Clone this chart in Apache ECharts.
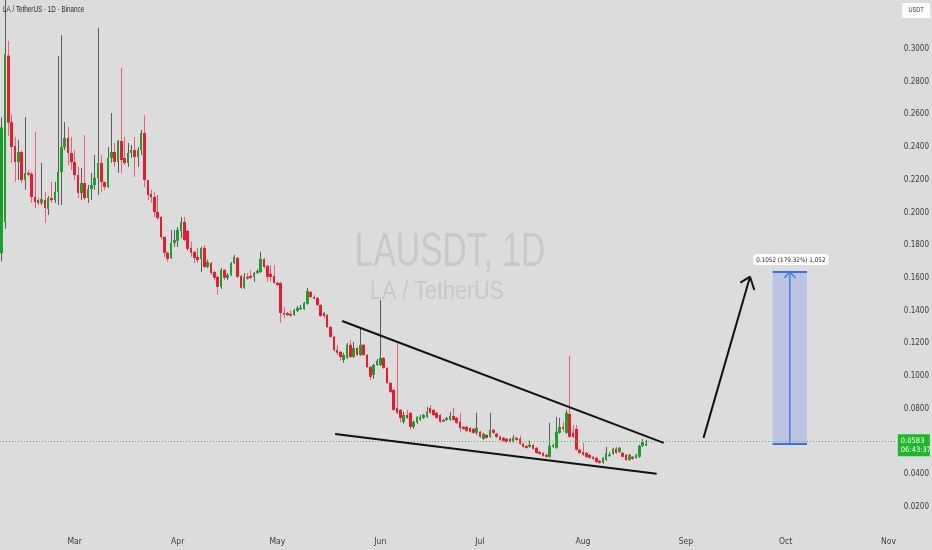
<!DOCTYPE html>
<html>
<head>
<meta charset="utf-8">
<script src="https://cdn.jsdelivr.net/npm/echarts@6/dist/echarts.min.js"></script>
<style>
html,body{margin:0;padding:0;background:#dcdcdc;}
#chart{width:932px;height:550px;}
</style>
</head>
<body>
<div id="chart"></div>
<script>
// ---- data (daily OHLC, LA / TetherUS, Binance) ----
const firstDay = '2025-02-07';
const dayCount = 270;
const monthNames = ['Jan','Feb','Mar','Apr','May','Jun','Jul','Aug','Sep','Oct','Nov','Dec'];

const open = [
0.175,0.194,0.296,0.2553,0.2407,0.2309,0.237,0.2199,0.2242,0.2236,
0.2095,0.2076,0.2058,0.2076,0.2021,0.2088,0.2076,0.2125,0.2248,0.24,
0.2456,0.2364,0.2309,0.2229,0.2119,0.218,0.2088,0.2144,0.2168,0.2211,
0.2303,0.2187,0.2156,0.2333,0.237,0.2309,0.2437,0.2333,0.2303,0.2364,
0.2382,0.234,0.2382,0.2486,0.2199,0.2113,0.2095,0.2003,0.1972,0.185,
0.1753,0.1722,0.1813,0.1826,0.1887,0.1942,0.1887,0.1783,0.1759,0.1728,
0.1716,0.1783,0.1667,0.1691,0.1636,0.1606,0.1545,0.1648,0.16,0.1618,
0.1691,0.1722,0.1612,0.1539,0.1606,0.1612,0.1606,0.163,0.1636,0.1716,
0.1673,0.1624,0.1612,0.1569,0.1569,0.1385,0.1385,0.1379,0.1373,0.1398,
0.1416,0.141,0.1441,0.1514,0.1483,0.1477,0.1434,0.1385,0.1373,0.13,
0.1239,0.1159,0.1147,0.1098,0.111,0.119,0.1116,0.1171,0.1128,0.119,
0.1128,0.1055,0.1006,0.1067,0.1067,0.111,0.1049,0.0957,0.0914,0.0804,
0.0792,0.0719,0.0761,0.0774,0.0688,0.0713,0.0731,0.0743,0.0749,0.0804,
0.0792,0.0774,0.0761,0.0731,0.0731,0.0731,0.0755,0.0743,0.0719,0.0688,
0.0688,0.0682,0.0676,0.0652,0.0658,0.0615,0.0639,0.0627,0.067,0.0646,
0.0627,0.0621,0.0615,0.0615,0.0597,0.0621,0.0615,0.0585,0.0572,0.0566,
0.0578,0.056,0.0535,0.0529,0.0517,0.0505,0.0566,0.056,0.0652,0.0688,
0.0652,0.0767,0.0652,0.0676,0.0548,0.0535,0.0529,0.0517,0.0505,0.0499,
0.048,0.0468,0.0486,0.0517,0.0523,0.0554,0.0535,0.0529,0.0517,0.0486,
0.0505,0.0499,0.0505,0.0572,0.0578
];
const close = [
0.252,0.297,0.255,0.2401,0.2309,0.237,0.2199,0.2242,0.2236,0.2095,
0.2064,0.2058,0.2082,0.2028,0.2088,0.2076,0.2125,0.2248,0.24,0.2456,
0.2364,0.2309,0.2229,0.2119,0.218,0.2088,0.2144,0.2168,0.2211,0.2303,
0.2187,0.2156,0.2333,0.237,0.2309,0.2437,0.2321,0.2303,0.2364,0.2382,
0.234,0.2382,0.2486,0.2199,0.2107,0.2095,0.2003,0.1966,0.185,0.1753,
0.1716,0.1813,0.1832,0.1893,0.1942,0.1832,0.1777,0.1753,0.1722,0.1709,
0.1783,0.1667,0.1697,0.163,0.16,0.1545,0.1648,0.16,0.1618,0.1691,
0.1728,0.1606,0.1539,0.1606,0.1604,0.16,0.163,0.1642,0.1716,0.1667,
0.1606,0.1606,0.1569,0.1557,0.1385,0.1383,0.1373,0.1377,0.1404,0.1416,
0.1418,0.1447,0.152,0.1483,0.1477,0.1434,0.1367,0.1367,0.13,0.1239,
0.1159,0.1141,0.1116,0.1128,0.119,0.1116,0.1171,0.1128,0.119,0.1128,
0.1055,0.0994,0.1067,0.1092,0.111,0.1049,0.0957,0.0902,0.0792,0.0774,
0.0743,0.0761,0.0743,0.0688,0.0719,0.0749,0.0749,0.0761,0.078,0.0774,
0.0761,0.0743,0.0719,0.0729,0.0743,0.0755,0.0731,0.0713,0.0682,0.0676,
0.0664,0.0658,0.0652,0.0682,0.0627,0.0646,0.0621,0.067,0.0652,0.0627,
0.0609,0.0603,0.0597,0.0597,0.0621,0.0609,0.0585,0.0566,0.056,0.0578,
0.0554,0.0529,0.0523,0.0511,0.0505,0.0572,0.0578,0.0658,0.0688,0.0676,
0.0774,0.0627,0.0627,0.0548,0.0529,0.0517,0.0505,0.0499,0.0493,0.0474,
0.0468,0.0499,0.0529,0.0519,0.0554,0.0529,0.056,0.0505,0.0486,0.0517,
0.0493,0.0517,0.0572,0.0597,0.0583
];
const low = [
0.170,0.190,0.247,0.2303,0.2187,0.2199,0.218,0.2138,0.222,0.2058,
0.2028,0.2046,0.2046,0.1936,0.1985,0.206,0.2058,0.2046,0.2046,0.2382,
0.229,0.226,0.2199,0.2088,0.2076,0.2076,0.2058,0.2076,0.2138,0.2107,
0.2125,0.2138,0.215,0.2303,0.2279,0.2242,0.2242,0.2291,0.2279,0.2333,
0.2217,0.2279,0.2352,0.2156,0.2076,0.2058,0.1972,0.1954,0.1838,0.1728,
0.1698,0.1716,0.179,0.179,0.1844,0.1826,0.1765,0.1728,0.1691,0.1691,
0.1636,0.166,0.166,0.1618,0.1587,0.1496,0.1532,0.1587,0.1587,0.1612,
0.1685,0.16,0.1532,0.1532,0.1587,0.1594,0.1575,0.1624,0.163,0.166,
0.1575,0.1575,0.1563,0.155,0.1324,0.1355,0.1367,0.1361,0.1367,0.1391,
0.1404,0.1404,0.1435,0.1477,0.1471,0.1428,0.1361,0.1355,0.1294,0.1232,
0.1147,0.1128,0.1092,0.108,0.1104,0.111,0.111,0.1122,0.1122,0.1122,
0.1049,0.0976,0.0982,0.1061,0.1061,0.1043,0.0951,0.0896,0.0786,0.0767,
0.0713,0.0707,0.0737,0.067,0.0676,0.0707,0.0725,0.0737,0.0743,0.0767,
0.0755,0.0737,0.0713,0.0719,0.0725,0.0725,0.0725,0.0707,0.0658,0.067,
0.0658,0.0652,0.0646,0.0639,0.0621,0.0609,0.0615,0.0621,0.0646,0.0621,
0.0603,0.0597,0.0591,0.0591,0.0591,0.0603,0.0579,0.056,0.0554,0.056,
0.0548,0.0523,0.0517,0.0505,0.0499,0.0499,0.056,0.0554,0.0646,0.0658,
0.0646,0.0621,0.0621,0.0542,0.0523,0.0511,0.0499,0.0493,0.0486,0.0468,
0.0462,0.0462,0.048,0.0505,0.0517,0.0523,0.0529,0.0499,0.048,0.048,
0.0486,0.0493,0.0499,0.0566,0.0572
];
const high = [
0.258,0.36,0.305,0.2596,0.2462,0.2443,0.238,0.2584,0.226,0.2248,
0.2492,0.209,0.2303,0.2125,0.21,0.2187,0.2187,0.2957,0.3085,0.2553,
0.2523,0.2462,0.2382,0.2279,0.2272,0.2474,0.2168,0.2242,0.2352,0.3128,
0.2352,0.2187,0.24,0.2609,0.2425,0.2443,0.2884,0.2462,0.2425,0.2413,
0.2462,0.24,0.2505,0.2596,0.2199,0.2138,0.2125,0.2107,0.1978,0.1856,
0.176,0.1893,0.1893,0.1911,0.1973,0.1973,0.1893,0.182,0.1765,0.1783,
0.179,0.1801,0.171,0.1697,0.1642,0.1612,0.166,0.1654,0.163,0.1697,
0.174,0.1728,0.1618,0.163,0.163,0.1648,0.1636,0.1654,0.1759,0.1722,
0.1679,0.1679,0.1679,0.1575,0.1575,0.1422,0.1391,0.14,0.141,0.1428,
0.1434,0.1453,0.1538,0.152,0.1496,0.1483,0.144,0.1391,0.1379,0.1306,
0.1245,0.119,0.1153,0.1141,0.1202,0.122,0.1208,0.1178,0.1294,0.1196,
0.1134,0.1061,0.1073,0.1104,0.1465,0.1116,0.1055,0.0963,0.092,0.1202,
0.0798,0.078,0.0792,0.078,0.0725,0.0755,0.0761,0.0767,0.081,0.0822,
0.0798,0.078,0.0767,0.0737,0.0749,0.078,0.0804,0.0749,0.0774,0.0694,
0.0694,0.0688,0.0682,0.0774,0.0664,0.0652,0.0646,0.0774,0.0676,0.0652,
0.0633,0.0627,0.0621,0.0621,0.0639,0.0627,0.0633,0.0591,0.0578,0.0603,
0.0585,0.0566,0.0541,0.0535,0.0523,0.0713,0.0585,0.0749,0.0743,0.0719,
0.0792,0.1122,0.07,0.07,0.0554,0.059,0.0535,0.0523,0.0511,0.0505,
0.0486,0.0505,0.0566,0.0535,0.056,0.0566,0.0566,0.0535,0.0523,0.0523,
0.0511,0.0523,0.0578,0.0615,0.0609
];

// drawings, in [day index from firstDay, price]
const trendUpper = [[102.5, 0.1336], [199.3, 0.0590]];
const trendLower = [[100.4, 0.0645], [197.2, 0.0401]];
const arrowShaft = [[211.3, 0.0621], [225.3, 0.1607]];
const arrowHead  = [[222.4, 0.1571], [225.3, 0.1607], [226.6, 0.1526]];
const rangeDays  = [232.1, 242.45];
const rangeMidDay = 237.3;
const rangeBase = 0.0583;
const rangeChange = 0.1052;
const rangeText = '0.1052 (179.32%) 1,052';
const lastPrice = 0.0583;
const countdown = '06:43:37';
const yTicks = [0.02,0.04,0.06,0.08,0.10,0.12,0.14,0.16,0.18,0.20,0.22,0.24,0.26,0.28,0.30,0.32];

// ---- build ----
const categories = [];
{
  const d0 = new Date(firstDay + 'T00:00:00Z');
  for (let k = 0; k < dayCount; k++) {
    const d = new Date(d0.getTime() + k * 86400000);
    categories.push(d.toISOString().slice(0, 10));
  }
}
const ohlc = open.map((o, i) => [i, o, close[i], low[i], high[i]]);
const rangeTop = +(rangeBase + rangeChange).toFixed(4);

const UP = '#1f9e2e', DOWN = '#e51d2e', UP_WICK = '#5a5a5a', DOWN_WICK = '#e8616d';
const NARROW = '"Liberation Sans Narrow", "Arial Narrow", "DejaVu Sans Condensed", sans-serif';

function renderCandle(params, api) {
  const x = api.value(0);
  const o = api.value(1), c = api.value(2), l = api.value(3), h = api.value(4);
  const pO = api.coord([x, o]), pC = api.coord([x, c]);
  const pL = api.coord([x, l]), pH = api.coord([x, h]);
  const up = c >= o;
  const half = api.size([1, 0])[0] * 0.39;
  const a = Math.round(pO[0] - half), b = Math.round(pO[0] + half);
  const wx = Math.floor((a + b) / 2) + 0.5;
  const top = Math.min(pO[1], pC[1]);
  const bh = Math.max(1.6, Math.abs(pO[1] - pC[1]));
  return {
    type: 'group',
    children: [
      { type: 'line', shape: { x1: wx, y1: pH[1], x2: wx, y2: pL[1] },
        style: { stroke: up ? UP_WICK : DOWN_WICK, lineWidth: 1 } },
      { type: 'rect', shape: { x: a, y: top, width: Math.max(2, b - a), height: bh },
        style: { fill: up ? UP : DOWN } }
    ]
  };
}

const chart = echarts.init(document.getElementById('chart'), null, { renderer: 'canvas' });
const blk = { color: '#111', width: 2 };
const blue = { color: '#3b6fe6', width: 2 };

chart.setOption({
  backgroundColor: '#dcdcdc',
  animation: false,
  grid: { left: -0.6, top: 0, width: 898.3, height: 523, containLabel: false },
  xAxis: [
    {
      type: 'category', data: categories, boundaryGap: true,
      axisLine: { show: false }, axisTick: { show: false }, splitLine: { show: false },
      axisLabel: {
        interval: (idx, val) => val.slice(8) === '01',
        formatter: (val) => monthNames[+val.slice(5, 7) - 1],
        fontFamily: NARROW, fontSize: 8.5, color: '#3a3a3a', margin: 14
      }
    },
    { type: 'value', min: -0.5, max: dayCount - 0.5, show: false }
  ],
  yAxis: {
    type: 'value', position: 'right', min: 0.01, max: 0.33, interval: 0.01,
    axisLine: { show: false }, axisTick: { show: false }, splitLine: { show: false },
    axisLabel: {
      formatter: (v) => yTicks.some(t => Math.abs(t - v) < 1e-6) ? v.toFixed(4) : '',
      fontFamily: NARROW, fontSize: 8, color: '#3a3a3a', margin: 7, align: 'left'
    }
  },
  graphic: [
    { type: 'text', x: 3, y: 10, scaleX: 0.7, z: 10,
      style: { text: 'LA / TetherUS · 1D · Binance', fontFamily: 'Liberation Sans', fontSize: 9,
        fill: '#2a2a2a', verticalAlign: 'middle', align: 'left' } },
    { type: 'text', x: 450, y: 253, scaleX: 0.7, z: 0, silent: true,
      style: { text: 'LAUSDT, 1D', fontFamily: 'Liberation Sans', fontSize: 48,
        fill: '#c8c8c8', align: 'center', verticalAlign: 'middle' } },
    { type: 'text', x: 437, y: 292, scaleX: 0.86, z: 0, silent: true,
      style: { text: 'LA / TetherUS', fontFamily: 'Liberation Sans', fontSize: 25,
        fill: '#c8c8c8', align: 'center', verticalAlign: 'middle' } },
    { type: 'rect', x: 902, y: 3, z: 20, shape: { width: 28, height: 15, r: 2 },
      style: { fill: '#ffffff' } },
    { type: 'text', x: 916, y: 10.5, z: 21, scaleX: 0.8,
      style: { text: 'USDT', fontFamily: 'Liberation Sans', fontSize: 7, fill: '#333',
        align: 'center', verticalAlign: 'middle' } }
  ],
  series: [
    {
      type: 'custom', name: 'LAUSDT', renderItem: renderCandle, clip: true,
      data: ohlc, encode: { x: 0, y: [1, 2, 3, 4] }, z: 3
    },
    {
      type: 'line', xAxisIndex: 1, data: trendUpper, showSymbol: false, symbol: 'none',
      lineStyle: blk, z: 5, silent: true,
      markLine: {
        symbol: 'none', silent: true, animation: false,
        data: [{ yAxis: lastPrice }],
        lineStyle: { color: '#4fba58', type: [1, 2], width: 1 },
        label: {
          show: true, position: 'end', distance: 1, offset: [0, 4],
          formatter: lastPrice.toFixed(4) + '\n' + countdown,
          backgroundColor: '#1fb82d', color: '#fff', fontFamily: NARROW, fontSize: 7.5,
          lineHeight: 9, padding: [2, 2, 2, 3], width: 27, align: 'left'
        }
      }
    },
    { type: 'line', xAxisIndex: 1, data: trendLower, showSymbol: false, symbol: 'none', lineStyle: blk, z: 5, silent: true },
    { type: 'line', xAxisIndex: 1, data: arrowShaft, showSymbol: false, symbol: 'none', lineStyle: blk, z: 5, silent: true },
    { type: 'line', xAxisIndex: 1, data: arrowHead, showSymbol: false, symbol: 'none', lineStyle: blk, z: 5, silent: true },
    {
      type: 'line', xAxisIndex: 1, data: [[rangeDays[0], rangeTop], [rangeDays[1], rangeTop]],
      showSymbol: false, symbol: 'none', lineStyle: blue, z: 5, silent: true,
      markArea: {
        silent: true,
        itemStyle: { color: 'rgba(55,100,245,0.2)' },
        data: [[{ coord: [rangeDays[0], rangeBase] }, { coord: [rangeDays[1], rangeTop] }]]
      }
    },
    { type: 'line', xAxisIndex: 1, data: [[rangeDays[0], rangeBase], [rangeDays[1], rangeBase]],
      showSymbol: false, symbol: 'none', lineStyle: blue, z: 5, silent: true },
    {
      type: 'line', xAxisIndex: 1, data: [[rangeMidDay, rangeBase], [rangeMidDay, rangeTop]],
      showSymbol: false, symbol: 'none', lineStyle: { color: '#3b6fe6', width: 1.3 }, z: 5, silent: true,
      markPoint: {
        symbol: 'rect', symbolSize: 0, silent: true,
        data: [{ coord: [rangeMidDay, rangeTop] }],
        label: {
          show: true, position: 'top', distance: 7, offset: [1, 0], formatter: rangeText,
          backgroundColor: '#ffffff', borderRadius: 3, padding: [3, 3, 2, 3],
          color: '#222', fontFamily: NARROW, fontSize: 6.3
        }
      }
    },
    { type: 'line', xAxisIndex: 1,
      data: [[rangeMidDay - 1.65, rangeTop - 0.0034], [rangeMidDay, rangeTop], [rangeMidDay + 1.65, rangeTop - 0.0034]],
      showSymbol: false, symbol: 'none', lineStyle: { color: '#3b6fe6', width: 1.3 }, z: 5, silent: true }
  ]
});
</script>
</body>
</html>
